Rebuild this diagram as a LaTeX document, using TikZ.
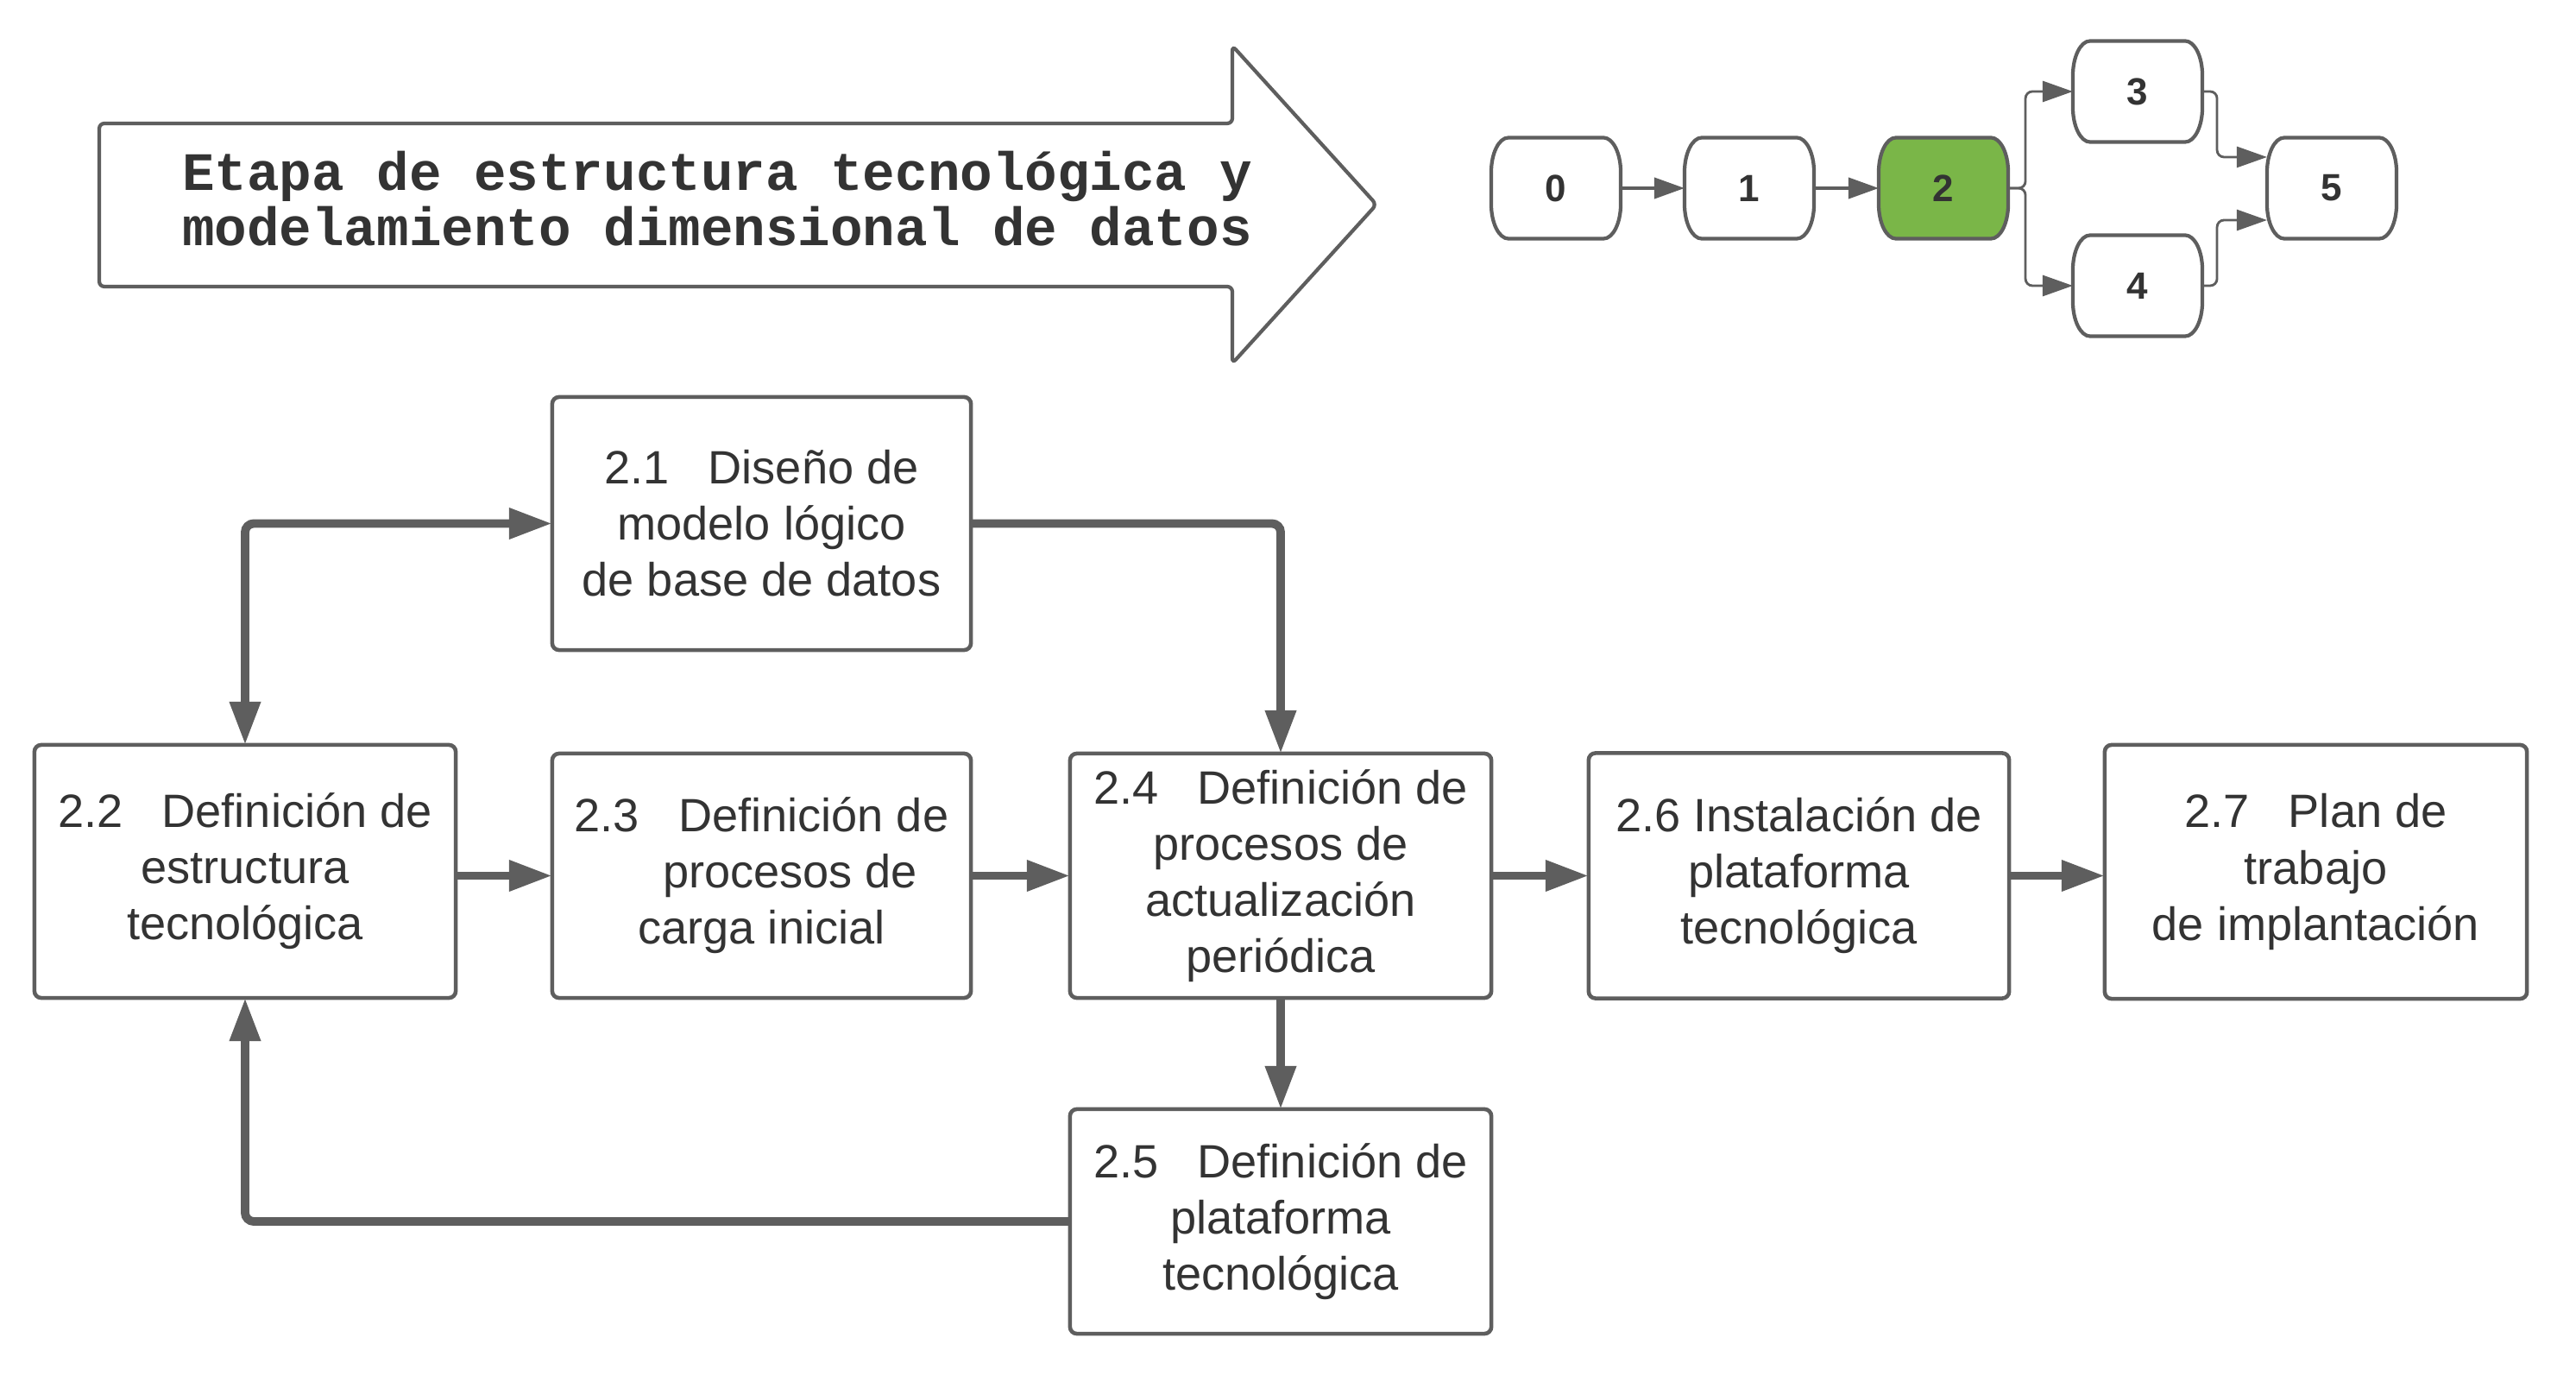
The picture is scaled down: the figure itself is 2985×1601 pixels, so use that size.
\documentclass[tikz,border=0pt]{standalone}
\usepackage{fontspec}
\setmainfont{Liberation Sans}
\newfontfamily\titlefont{Liberation Mono}
\usetikzlibrary{arrows.meta,backgrounds}
\definecolor{linegray}{HTML}{5E5E5E}
\definecolor{txtgray}{HTML}{333333}
\definecolor{stepgreen}{HTML}{7AB648}
\newcommand\drawpill[2]{%
  \draw[pillline,fill=#2] ([xshift=0.2cm]#1.north west) -- ([xshift=-0.2cm]#1.north east)
    .. controls ([xshift=-0.09cm]#1.north east) and ([yshift=-0.18cm]#1.north east) .. ([yshift=-0.4cm]#1.north east)
    -- ([yshift=0.4cm]#1.south east)
    .. controls ([yshift=0.18cm]#1.south east) and ([xshift=-0.09cm]#1.south east) .. ([xshift=-0.2cm]#1.south east)
    -- ([xshift=0.2cm]#1.south west)
    .. controls ([xshift=0.09cm]#1.south west) and ([yshift=0.18cm]#1.south west) .. ([yshift=0.4cm]#1.south west)
    -- ([yshift=-0.4cm]#1.north west)
    .. controls ([yshift=-0.18cm]#1.north west) and ([xshift=0.09cm]#1.north west) .. cycle;}
\begin{document}
\begin{tikzpicture}[x=0.01cm,y=-0.01cm,
  box/.style={draw=linegray, line width=1.3pt, rounded corners=0.08cm, fill=white,
    align=center, text=txtgray, font=\fontsize{15.4}{18.5}\selectfont, inner sep=0pt, outer sep=0pt},
  flow/.style={draw=linegray, line width=2.8pt, rounded corners=0.1cm,
    -{Triangle[length=0.5cm,width=0.34cm]}},
  pillnode/.style={minimum width=1.5cm, minimum height=1.17cm, inner sep=0pt, outer sep=0pt,
    font=\bfseries\fontsize{12.5}{14}\selectfont, text=txtgray},
  pillline/.style={draw=linegray, line width=1.2pt},
  smallarrow/.style={draw=linegray, line width=1.1pt, -{Triangle[length=0.35cm,width=0.24cm]}},
  branch/.style={smallarrow, line width=0.8pt, rounded corners=0.08cm}]
\useasboundingbox (0,0) rectangle (2985,1601);

% big title arrow
\draw[draw=linegray, line width=1.2pt, fill=white, rounded corners=0.06cm]
  (115,143) -- (1428,143) -- (1428,53) -- (1595,237) -- (1428,421) -- (1428,332) -- (115,332) -- cycle;
\node[font=\titlefont\bfseries\fontsize{17.8}{18.2}\selectfont, text=txtgray, align=center, inner sep=0pt]
  (title) at (831,230) {Etapa de estructura tecnológica y\\modelamiento dimensional de datos};

% small stage nodes
\node[pillnode] (s0) at (1803,218) {0};
\node[pillnode] (s1) at (2027,218) {1};
\node[pillnode] (s2) at (2252,218) {2};
\node[pillnode] (s3) at (2477,106) {3};
\node[pillnode] (s4) at (2477,331) {4};
\node[pillnode] (s5) at (2702,218) {5};
\begin{scope}[on background layer]
  \drawpill{s0}{white}
  \drawpill{s1}{white}
  \drawpill{s2}{stepgreen}
  \drawpill{s3}{white}
  \drawpill{s4}{white}
  \drawpill{s5}{white}
\end{scope}
\draw[smallarrow] (s0.east) -- (s1.west);
\draw[smallarrow] (s1.east) -- (s2.west);
\draw[branch] (s2.east) -- ++(20,0) |- (s3.west);
\draw[branch] (s2.east) -- ++(20,0) |- (s4.west);
\draw[branch] (s3.east) -- ++(17,0) |- ([yshift=0.36cm]s5.west);
\draw[branch] (s4.east) -- ++(17,0) |- ([yshift=-0.37cm]s5.west);

% main boxes
\node[box, minimum width=4.85cm, minimum height=2.93cm] (n21) at (882.5,606.5)
  {2.1~~~Diseño de\\modelo lógico\\de base de datos};
\node[box, minimum width=4.88cm, minimum height=2.93cm] (n22) at (284,1009.5)
  {2.2~~~Definición de\\estructura\\tecnológica};
\node[box, minimum width=4.85cm, minimum height=2.83cm] (n23) at (882.5,1014.5)
  {2.3~~~Definición de\\\hspace*{0.66cm}procesos de\\carga inicial};
\node[box, minimum width=4.88cm, minimum height=2.83cm] (n24) at (1484,1014.5)
  {2.4~~~Definición de\\procesos de\\actualización\\periódica};
\node[box, minimum width=4.88cm, minimum height=2.60cm] (n25) at (1484,1415)
  {2.5~~~Definición de\\plataforma\\tecnológica};
\node[box, minimum width=4.87cm, minimum height=2.84cm] (n26) at (2084.5,1014.5)
  {2.6 Instalación de\\plataforma\\tecnológica};
\node[box, minimum width=4.89cm, minimum height=2.94cm] (n27) at (2683.5,1010)
  {2.7~~~Plan de\\trabajo\\de implantación};

% connectors
\draw[flow, {Triangle[length=0.5cm,width=0.34cm]}-{Triangle[length=0.5cm,width=0.34cm]}]
  (n22.north) |- (n21.west);
\draw[flow] (n21.east) -| (n24.north);
\draw[flow] (n22.east |- n23.west) -- (n23.west);
\draw[flow] (n23.east) -- (n24.west);
\draw[flow] (n24.east) -- (n24.east -| n26.west);
\draw[flow] (n26.east) -- (n26.east -| n27.west);
\draw[flow] (n24.south) -- (n25.north);
\draw[flow] (n25.west) -| (n22.south);
\end{tikzpicture}
\end{document}
